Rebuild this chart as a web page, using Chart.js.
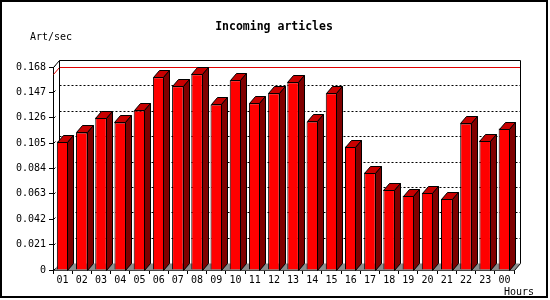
<!DOCTYPE html>
<html>
<head>
    <style>
        body {
            margin: 0;
            background: #fff;
        }
    </style>
    <script src="https://cdn.jsdelivr.net/npm/chart.js"></script>
</head>
<body>
    <canvas id="articlesChart" width="550" height="300"></canvas>

    <script>
        const hours = ['01', '02', '03', '04', '05', '06', '07', '08', '09', '10', '11', '12',
                       '13', '14', '15', '16', '17', '18', '19', '20', '21', '22', '23', '00'];
        const rates = [0.1063, 0.1138, 0.1262, 0.1221, 0.1321, 0.1595, 0.1520, 0.1620,
                       0.1370, 0.1570, 0.1379, 0.1462, 0.1553, 0.1229, 0.1462, 0.1022,
                       0.0806, 0.0664, 0.0615, 0.0640, 0.0590, 0.1213, 0.1071, 0.1171];
        const yMax = 0.168;
        const yStep = 0.021;

        const mono = "'DejaVu Sans Mono', monospace";
        const dx = 6, dy = -7; // depth of the 3d effect

        function line(ctx, pts) {
            ctx.beginPath();
            ctx.moveTo(pts[0][0], pts[0][1]);
            for (let i = 1; i < pts.length; i++) ctx.lineTo(pts[i][0], pts[i][1]);
            ctx.stroke();
        }

        function poly(ctx, pts, fill) {
            ctx.beginPath();
            ctx.moveTo(pts[0][0], pts[0][1]);
            for (let i = 1; i < pts.length; i++) ctx.lineTo(pts[i][0], pts[i][1]);
            ctx.closePath();
            ctx.fillStyle = fill;
            ctx.fill();
            ctx.stroke();
        }

        const frame3d = {
            id: 'frame3d',
            beforeDraw(chart) {
                const ctx = chart.ctx;
                ctx.save();
                ctx.fillStyle = '#fff';
                ctx.fillRect(0, 0, chart.width, chart.height);
                ctx.restore();
            },
            beforeDatasetsDraw(chart) {
                const ctx = chart.ctx;
                const { left, right, top, bottom } = chart.chartArea;
                const y = chart.scales.y;
                const L = Math.round(left) + 0.5, R = Math.round(right) + 0.5;
                const T = Math.round(top) + 0.5, B = Math.round(bottom) + 0.5;
                ctx.save();
                ctx.lineWidth = 1;
                ctx.strokeStyle = '#000';

                // floor
                ctx.beginPath();
                ctx.moveTo(L, B);
                ctx.lineTo(R, B);
                ctx.lineTo(R + dx, B + dy);
                ctx.lineTo(L + dx, B + dy);
                ctx.closePath();
                ctx.fillStyle = '#8c8c8c';
                ctx.fill();

                // dotted grid on the back wall
                ctx.setLineDash([2, 2]);
                y.ticks.forEach(t => {
                    if (t.value > 0 && t.value < yMax - 1e-6) {
                        const py = Math.round(y.getPixelForValue(t.value) + dy) + 0.5;
                        line(ctx, [[L + dx, py], [R + dx, py]]);
                    }
                });
                ctx.setLineDash([]);

                // small ticks on the left wall
                y.ticks.forEach(t => {
                    const py = Math.round(y.getPixelForValue(t.value)) + 0.5;
                    line(ctx, [[L, py], [L + 2, py - 2]]);
                });

                // max line
                const m = Math.max(...rates);
                const pm = Math.round(y.getPixelForValue(m)) + 0.5;
                ctx.strokeStyle = '#e00000';
                line(ctx, [[L, pm], [L + dx, pm + dy], [R + dx, pm + dy]]);

                // back frame
                ctx.strokeStyle = '#000';
                line(ctx, [[L, T], [L + dx, T + dy], [R + dx, T + dy], [R + dx, B + dy], [R, B]]);
                line(ctx, [[L + dx, T + dy], [L + dx, B + dy]]);
                ctx.restore();
            },
            afterDatasetsDraw(chart) {
                const ctx = chart.ctx;
                const meta = chart.getDatasetMeta(0);
                ctx.save();
                ctx.lineWidth = 1;
                ctx.strokeStyle = '#000';
                meta.data.forEach(bar => {
                    const p = bar.getProps(['x', 'y', 'width', 'base'], true);
                    const l = Math.round(p.x - p.width / 2) + 0.5;
                    const r = Math.round(p.x + p.width / 2) - 0.5;
                    const t = Math.round(p.y) + 0.5;
                    const b = Math.round(p.base) + 0.5;
                    poly(ctx, [[l, t], [l + dx, t + dy], [r + dx, t + dy], [r, t]], '#c80000');
                    poly(ctx, [[r, t], [r + dx, t + dy], [r + dx, b + dy], [r, b]], '#800000');
                });
                ctx.restore();
            },
            afterDraw(chart) {
                const ctx = chart.ctx;
                ctx.save();
                ctx.fillStyle = '#000';
                ctx.textBaseline = 'middle';
                ctx.font = 'bold 11.5px ' + mono;
                ctx.textAlign = 'center';
                ctx.fillText('Incoming articles', 274, 27);
                ctx.font = '10px ' + mono;
                ctx.textAlign = 'left';
                ctx.fillText('Art/sec', 30, 37);
                ctx.textAlign = 'right';
                ctx.fillText('Hours', 534, 292);
                ctx.lineWidth = 2;
                ctx.strokeStyle = '#000';
                ctx.strokeRect(1, 1, 546, 296);
                ctx.restore();
            }
        };

        new Chart(document.getElementById('articlesChart'), {
            type: 'bar',
            data: {
                labels: hours,
                datasets: [{
                    label: 'Art/sec',
                    data: rates,
                    backgroundColor: '#ff0000',
                    borderColor: '#000',
                    borderWidth: 1,
                    categoryPercentage: 1,
                    barPercentage: 0.6
                }]
            },
            options: {
                responsive: false,
                devicePixelRatio: 1,
                animation: false,
                layout: {
                    padding: { top: 67, right: 36, bottom: 0, left: 0 }
                },
                plugins: {
                    legend: { display: false },
                    tooltip: { enabled: false }
                },
                scales: {
                    x: {
                        afterFit: s => { s.height = 30; },
                        grid: { drawOnChartArea: false, tickLength: 4, color: '#000', offset: true },
                        border: { color: '#000' },
                        ticks: {
                            color: '#000',
                            font: { family: mono, size: 10 },
                            padding: 0,
                            maxRotation: 0,
                            autoSkip: false
                        }
                    },
                    y: {
                        min: 0,
                        max: yMax,
                        afterFit: s => { s.width = 53; },
                        grid: { drawOnChartArea: false, tickLength: 4, color: '#000' },
                        border: { color: '#000' },
                        ticks: {
                            stepSize: yStep,
                            color: '#000',
                            padding: 3,
                            font: { family: mono, size: 10 },
                            callback: v => v === 0 ? '0' : v.toFixed(3)
                        }
                    }
                }
            },
            plugins: [frame3d]
        });
    </script>
</body>
</html>
